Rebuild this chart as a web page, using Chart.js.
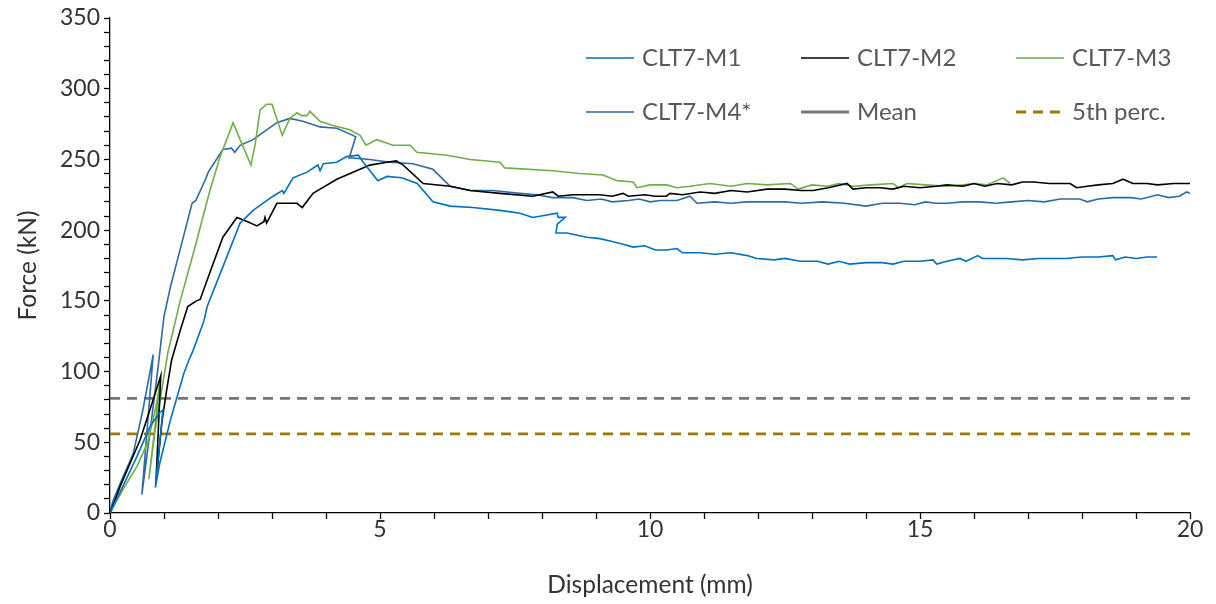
<!DOCTYPE html>
<html>
<head>
<meta charset="utf-8">
<script src="https://cdn.jsdelivr.net/npm/chart.js@4"></script>
<style>
    html, body { margin: 0; padding: 0; background: #fff; }
    #wrap { width: 1216px; height: 604px; }
</style>
</head>
<body>
<div id="wrap"><canvas id="forceChart"></canvas></div>
<script>
// Load-displacement curves, displacement in mm / force in kN
const m1Disp = [0, 0.1, 0.24, 0.5, 0.74, 0.9, 0.98, 0.84, 0.92, 1.03, 1.12, 1.37, 1.46, 1.54, 1.74, 1.8, 2.09, 2.41, 2.65, 3.02, 3.19, 3.22, 3.39, 3.65, 3.85, 3.89, 3.95, 4.2, 4.38, 4.6, 4.69, 4.96, 5.13, 5.4, 5.69, 5.98, 6.3, 6.72, 7.22, 7.59, 7.83, 8.28, 8.3, 8.43, 8.28, 8.26, 8.46, 8.83, 9.07, 9.3, 9.5, 9.69, 9.9, 10.1, 10.31, 10.5, 10.6, 10.93, 11.2, 11.5, 11.8, 11.98, 12.3, 12.5, 12.78, 13.1, 13.3, 13.5, 13.7, 14.0, 14.3, 14.5, 14.7, 15.0, 15.24, 15.31, 15.5, 15.74, 15.85, 16.07, 16.15, 16.6, 16.9, 17.2, 17.35, 17.7, 18.0, 18.3, 18.57, 18.62, 18.8, 19.0, 19.2, 19.39];
const m1Force = [0, 8, 19, 40, 61, 70, 73, 18, 35, 52, 66, 99, 108, 115, 136, 146, 174, 205, 214, 224, 228, 226, 237, 241, 246, 242, 247, 248, 252, 253, 248, 235, 238, 237, 233, 220, 217, 216, 214, 212, 209, 212, 209, 209, 204, 198, 198, 195, 194, 192, 190, 188, 189, 186, 186, 187, 184, 184, 183, 184, 182, 180, 179, 180, 178, 178, 176, 178, 176, 177, 177, 176, 178, 178, 179, 176, 178, 180, 178, 182, 180, 180, 179, 180, 180, 180, 181, 181, 182, 179, 181, 180, 181, 181];

const m2Disp = [0, 0.19, 0.56, 0.8, 0.94, 0.85, 0.96, 1.05, 1.14, 1.3, 1.44, 1.6, 1.67, 1.85, 2.09, 2.35, 2.55, 2.72, 2.85, 2.87, 2.9, 3.09, 3.46, 3.56, 3.76, 3.89, 4.2, 4.5, 4.81, 5.13, 5.3, 5.43, 5.8, 6.3, 6.67, 7.22, 7.83, 8.2, 8.3, 8.57, 9.07, 9.3, 9.5, 9.6, 9.9, 10.1, 10.3, 10.37, 10.6, 10.93, 11.2, 11.5, 11.8, 12.17, 12.5, 12.8, 13.02, 13.3, 13.65, 13.76, 14.0, 14.26, 14.5, 14.7, 15.0, 15.3, 15.5, 15.8, 16.0, 16.2, 16.43, 16.7, 16.9, 17.1, 17.4, 17.78, 17.9, 18.1, 18.3, 18.57, 18.76, 18.94, 19.2, 19.4, 19.7, 20];
const m2Force = [0, 19, 52, 80, 97, 21, 64, 87, 108, 129, 146, 150, 151, 170, 195, 209, 206, 203, 206, 209, 205, 219, 219, 216, 226, 229, 236, 241, 246, 248, 249, 246, 233, 231, 228, 226, 224, 227, 224, 225, 225, 224, 226, 224, 225, 224, 224, 226, 225, 227, 226, 228, 227, 229, 229, 228, 228, 230, 233, 229, 230, 230, 229, 231, 230, 231, 232, 231, 233, 231, 233, 232, 234, 234, 233, 233, 230, 231, 232, 233, 236, 233, 233, 232, 233, 233];

const m3Disp = [0, 0.26, 0.5, 0.7, 0.85, 0.93, 0.72, 0.83, 1.07, 1.3, 1.56, 1.85, 2.04, 2.28, 2.41, 2.61, 2.69, 2.78, 2.9, 3.0, 3.19, 3.33, 3.46, 3.55, 3.65, 3.7, 3.89, 4.13, 4.44, 4.63, 4.74, 4.94, 5.24, 5.56, 5.68, 6.24, 6.67, 7.22, 7.31, 8.2, 8.7, 9.13, 9.39, 9.69, 9.76, 10.0, 10.31, 10.5, 10.74, 11.11, 11.5, 11.8, 12.17, 12.6, 12.74, 13.0, 13.28, 13.5, 13.76, 14.1, 14.5, 14.6, 14.76, 15.1, 15.5, 15.8, 16.0, 16.24, 16.54, 16.67];
const m3Force = [0, 18, 33, 50, 75, 93, 24, 57, 113, 150, 186, 228, 252, 276, 264, 246, 261, 285, 289, 289, 267, 279, 283, 281, 281, 284, 277, 274, 271, 267, 260, 264, 260, 260, 255, 253, 250, 248, 244, 242, 240, 239, 235, 234, 230, 232, 232, 230, 231, 233, 231, 233, 232, 233, 229, 232, 231, 233, 231, 232, 233, 230, 233, 232, 231, 232, 233, 232, 237, 233];

const m4Disp = [0, 0.05, 0.19, 0.43, 0.61, 0.8, 0.59, 0.74, 0.89, 1.0, 1.12, 1.31, 1.52, 1.59, 1.77, 1.82, 2.09, 2.25, 2.31, 2.41, 2.65, 2.83, 3.09, 3.33, 3.57, 3.89, 4.2, 4.5, 4.55, 4.43, 4.5, 4.81, 5.19, 5.61, 5.98, 6.3, 6.67, 7.09, 7.59, 7.9, 8.2, 8.57, 8.83, 9.1, 9.3, 9.6, 9.8, 10.0, 10.19, 10.5, 10.74, 10.87, 11.2, 11.5, 11.8, 12.17, 12.5, 12.8, 13.2, 13.6, 14.0, 14.3, 14.63, 14.9, 15.1, 15.3, 15.5, 15.8, 16.1, 16.4, 16.7, 17.0, 17.3, 17.6, 17.96, 18.1, 18.3, 18.57, 18.9, 19.1, 19.4, 19.6, 19.8, 19.94, 20];
const m4Force = [0, 8, 21, 42, 73, 112, 13, 57, 103, 139, 160, 188, 219, 221, 236, 241, 257, 258, 255, 260, 264, 269, 276, 279, 277, 273, 272, 267, 266, 251, 251, 250, 248, 247, 243, 231, 228, 228, 226, 225, 223, 223, 221, 222, 220, 221, 222, 220, 221, 221, 224, 219, 220, 219, 220, 220, 220, 219, 220, 219, 217, 219, 219, 218, 220, 219, 219, 220, 220, 219, 220, 221, 220, 222, 222, 220, 222, 223, 223, 222, 225, 223, 224, 227, 226];

// reference levels
const refDisp = [0, 20];
const meanForce = 81;
const p5Force = 56;

const seriesLabels = ['CLT7-M1', 'CLT7-M2', 'CLT7-M3', 'CLT7-M4*', 'Mean', '5th perc.'];
const seriesColors = ['#0070C0', '#000000', '#70AD47', '#2E6AA6', '#767676', '#9C7A00'];

const FONT = 'Lato, "Liberation Sans", sans-serif';
const TEXT = '#333333';

function pts(xs, ys) {
    return xs.map((x, i) => ({ x: x, y: ys[i] }));
}

function curve(i, xs, ys) {
    return {
        label: seriesLabels[i],
        data: pts(xs, ys),
        borderColor: seriesColors[i],
        borderWidth: 1.6,
        showLine: true,
        pointRadius: 0,
        tension: 0
    };
}

function refLine(i, level) {
    return {
        label: seriesLabels[i],
        data: refDisp.map(x => ({ x: x, y: level })),
        borderColor: seriesColors[i],
        borderWidth: 2.8,
        borderDash: [10, 7],
        showLine: true,
        pointRadius: 0
    };
}

// legend drawn as a fixed 3x2 grid inside the plot
const gridLegend = {
    id: 'gridLegend',
    afterDraw(chart) {
        const ctx = chart.ctx;
        const cols = [586, 801, 1016];
        const rows = [58, 112];
        ctx.save();
        ctx.font = '24px ' + FONT;
        ctx.textBaseline = 'middle';
        chart.data.datasets.forEach((ds, i) => {
            const x = cols[i % 3];
            const y = rows[Math.floor(i / 3)];
            ctx.beginPath();
            ctx.strokeStyle = ds.borderColor;
            if (i === 4) {
                ctx.lineWidth = 3;
                ctx.setLineDash([]);
            } else if (i === 5) {
                ctx.lineWidth = 3;
                ctx.setLineDash([10, 7]);
            } else {
                ctx.lineWidth = 1.6;
                ctx.setLineDash([]);
            }
            ctx.moveTo(x, y);
            ctx.lineTo(x + 48, y);
            ctx.stroke();
            ctx.setLineDash([]);
            ctx.fillStyle = '#595959';
            ctx.fillText(ds.label, x + 56, y);
        });
        ctx.restore();
    }
};

const ctx = document.getElementById('forceChart').getContext('2d');
const chart = new Chart(ctx, {
    type: 'scatter',
    data: {
        datasets: [
            curve(0, m1Disp, m1Force),
            curve(1, m2Disp, m2Force),
            curve(2, m3Disp, m3Force),
            curve(3, m4Disp, m4Force),
            refLine(4, meanForce),
            refLine(5, p5Force)
        ]
    },
    options: {
        responsive: true,
        maintainAspectRatio: false,
        animation: false,
        layout: { padding: { top: 18, right: 26, left: 0, bottom: 0 } },
        plugins: {
            legend: { display: false },
            tooltip: { enabled: false }
        },
        scales: {
            x: {
                type: 'linear',
                min: 0,
                max: 20,
                afterFit: s => { s.height = 91; },
                border: { color: '#000', width: 1.3 },
                grid: { drawOnChartArea: false, drawTicks: true, tickLength: 6, color: '#000', tickWidth: 1.3 },
                ticks: {
                    stepSize: 1,
                    autoSkip: false,
                    maxRotation: 0,
                    padding: -3,
                    color: TEXT,
                    font: { family: FONT, size: 23 },
                    callback: v => (v % 5 === 0 ? v : '')
                },
                title: {
                    display: true,
                    text: 'Displacement (mm)',
                    color: TEXT,
                    font: { family: FONT, size: 24.5 },
                    padding: { top: 0, bottom: 4 }
                }
            },
            y: {
                min: 0,
                max: 350,
                afterFit: s => { s.width = 110; },
                border: { color: '#000', width: 1.3 },
                grid: { drawOnChartArea: false, drawTicks: true, tickLength: 6, color: '#000', tickWidth: 1.3 },
                ticks: {
                    stepSize: 10,
                    autoSkip: false,
                    padding: 4,
                    color: TEXT,
                    font: { family: FONT, size: 23 },
                    callback: v => (v % 50 === 0 ? v : '')
                },
                title: {
                    display: true,
                    text: 'Force (kN)',
                    color: TEXT,
                    font: { family: FONT, size: 24.5 },
                    padding: { top: 13, bottom: 0 }
                }
            }
        }
    },
    plugins: [gridLegend]
});
</script>
</body>
</html>
